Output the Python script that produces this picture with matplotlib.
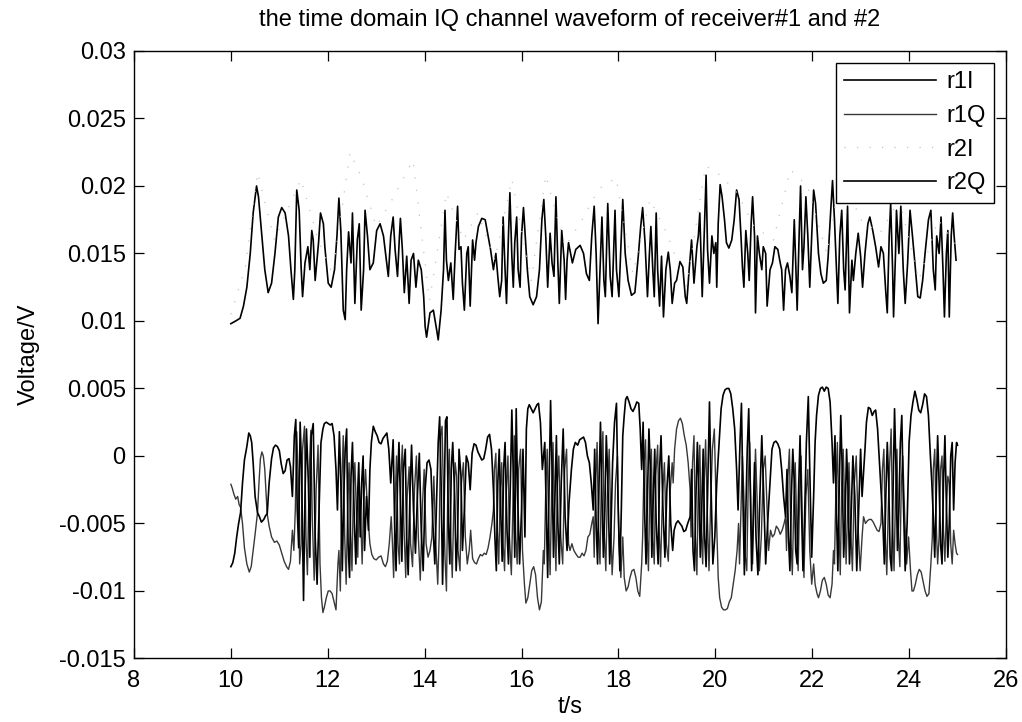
import matplotlib
matplotlib.use("Agg")
import matplotlib.pyplot as plt
from matplotlib.ticker import FuncFormatter

plt.rcParams['font.family'] = ['Liberation Sans', 'DejaVu Sans']
plt.rcParams['axes.unicode_minus'] = False

# Digitised waveforms: (time in s, voltage in mV)
r1i_pts = [
    (10.00, 9.8), (10.10, 10.0), (10.19, 10.2), (10.26, 11.1), (10.33, 12.5), (10.40, 15.0), (10.46, 18.0),
    (10.53, 20.0), (10.57, 19.2), (10.64, 16.3), (10.70, 13.8), (10.77, 12.1), (10.84, 12.8), (10.91, 15.0),
    (10.98, 17.7), (11.05, 18.4), (11.12, 18.0), (11.19, 16.3), (11.24, 13.8), (11.29, 11.6), (11.32, 13.8),
    (11.36, 19.7), (11.41, 18.2), (11.45, 14.0), (11.48, 11.8), (11.53, 14.3), (11.59, 15.5), (11.63, 13.8),
    (11.67, 16.7), (11.70, 16.0), (11.74, 13.0), (11.81, 15.8), (11.85, 18.0), (11.91, 17.2), (11.94, 15.5),
    (12.01, 12.8), (12.07, 12.5), (12.14, 13.8), (12.19, 16.3), (12.23, 19.1), (12.27, 16.7), (12.32, 10.8),
    (12.36, 10.1), (12.39, 13.8), (12.43, 16.6), (12.48, 14.3), (12.51, 18.0), (12.56, 11.3), (12.61, 16.0),
    (12.65, 17.2), (12.69, 10.8), (12.74, 13.8), (12.77, 18.2), (12.82, 16.3), (12.87, 13.8), (12.94, 14.3),
    (13.01, 16.7), (13.08, 17.2), (13.15, 16.3), (13.20, 14.8), (13.25, 13.3), (13.30, 16.3), (13.35, 17.7),
    (13.39, 15.3), (13.44, 13.3), (13.48, 16.3), (13.50, 17.6), (13.54, 15.3), (13.58, 12.1), (13.63, 14.8),
    (13.68, 11.3), (13.72, 14.5), (13.77, 15.0), (13.82, 12.5), (13.87, 14.5), (13.93, 13.8), (13.98, 11.8),
    (14.01, 9.6), (14.04, 8.8), (14.11, 10.6), (14.18, 10.8), (14.25, 9.3), (14.28, 8.6), (14.34, 10.8),
    (14.39, 13.8), (14.42, 18.2), (14.45, 14.5), (14.49, 13.0), (14.54, 14.3), (14.59, 11.6), (14.63, 15.0),
    (14.68, 18.5), (14.71, 15.3), (14.75, 15.5), (14.78, 12.8), (14.82, 10.8), (14.87, 15.0), (14.90, 15.5),
    (14.94, 11.1), (14.99, 16.0), (15.03, 14.5), (15.06, 15.8), (15.11, 17.0), (15.18, 17.6), (15.25, 17.5),
    (15.31, 16.3), (15.36, 15.3), (15.42, 13.8), (15.47, 15.0), (15.51, 13.3), (15.55, 11.8), (15.59, 13.0),
    (15.62, 17.7), (15.66, 13.8), (15.69, 11.3), (15.73, 16.3), (15.76, 19.5), (15.80, 14.8), (15.83, 12.5),
    (15.86, 15.8), (15.90, 17.7), (15.93, 13.8), (15.97, 12.5), (16.00, 16.3), (16.04, 18.4), (16.07, 16.7),
    (16.12, 13.8), (16.17, 11.8), (16.24, 11.2), (16.31, 11.8), (16.37, 13.8), (16.42, 17.5), (16.46, 19.0),
    (16.50, 16.3), (16.54, 12.5), (16.59, 16.5), (16.63, 14.3), (16.67, 13.3), (16.71, 19.2), (16.75, 14.3),
    (16.78, 11.3), (16.83, 16.7), (16.88, 14.5), (16.91, 11.6), (16.94, 14.5), (16.97, 15.8), (17.05, 14.3),
    (17.12, 15.3), (17.21, 15.6), (17.28, 15.0), (17.34, 13.5), (17.40, 13.0), (17.45, 16.3), (17.50, 18.5),
    (17.54, 15.0), (17.58, 9.8), (17.62, 13.8), (17.66, 17.7), (17.70, 13.0), (17.73, 11.8), (17.78, 18.7),
    (17.83, 13.3), (17.87, 11.8), (17.93, 18.2), (17.96, 13.8), (18.01, 11.8), (18.05, 15.5), (18.09, 19.0),
    (18.14, 15.0), (18.20, 13.0), (18.27, 11.9), (18.34, 12.1), (18.41, 14.8), (18.46, 17.0), (18.50, 18.4),
    (18.55, 15.8), (18.60, 11.8), (18.64, 15.0), (18.67, 17.0), (18.71, 13.8), (18.74, 11.8), (18.78, 18.0),
    (18.81, 13.8), (18.85, 11.1), (18.89, 14.8), (18.93, 10.3), (18.98, 13.8), (19.03, 15.1), (19.07, 13.8),
    (19.11, 11.3), (19.16, 12.8), (19.20, 13.0), (19.27, 14.4), (19.33, 14.0), (19.38, 11.8), (19.41, 11.3),
    (19.46, 13.8), (19.51, 16.0), (19.56, 12.8), (19.62, 15.5), (19.65, 16.3), (19.68, 18.0), (19.73, 11.8),
    (19.77, 16.3), (19.81, 20.8), (19.84, 15.3), (19.88, 12.8), (19.93, 16.3), (19.97, 15.0), (20.01, 15.8),
    (20.03, 12.5), (20.06, 17.2), (20.10, 20.1), (20.14, 19.2), (20.19, 17.5), (20.23, 15.8), (20.28, 15.4),
    (20.34, 16.0), (20.39, 17.5), (20.44, 19.7), (20.49, 19.0), (20.53, 16.3), (20.56, 14.0), (20.59, 12.5),
    (20.63, 16.7), (20.67, 15.0), (20.70, 13.0), (20.74, 17.2), (20.77, 19.2), (20.81, 16.3), (20.83, 10.6),
    (20.87, 16.3), (20.91, 15.0), (20.96, 13.8), (20.99, 15.5), (21.04, 15.0), (21.07, 11.1), (21.13, 13.8),
    (21.18, 14.3), (21.23, 15.5), (21.29, 15.3), (21.34, 14.3), (21.37, 13.8), (21.41, 10.8), (21.45, 13.8),
    (21.49, 14.3), (21.54, 13.3), (21.58, 12.1), (21.63, 17.5), (21.66, 14.3), (21.69, 10.8), (21.73, 16.3),
    (21.76, 20.0), (21.80, 13.8), (21.83, 15.5), (21.87, 19.2), (21.91, 16.3), (21.95, 12.5), (21.99, 16.3),
    (22.03, 19.7), (22.07, 18.7), (22.13, 15.0), (22.18, 13.5), (22.23, 12.8), (22.29, 13.0), (22.33, 14.8),
    (22.38, 18.0), (22.42, 20.4), (22.46, 17.5), (22.53, 11.3), (22.57, 16.3), (22.61, 18.2), (22.65, 13.8),
    (22.68, 12.3), (22.73, 18.5), (22.77, 10.6), (22.82, 14.5), (22.85, 13.0), (22.90, 15.0), (22.95, 16.5),
    (23.00, 14.8), (23.04, 12.5), (23.09, 15.0), (23.15, 17.2), (23.19, 17.7), (23.25, 16.7), (23.31, 15.5),
    (23.37, 14.0), (23.42, 15.5), (23.47, 15.0), (23.52, 12.1), (23.55, 10.6), (23.59, 16.3), (23.62, 18.7),
    (23.66, 13.8), (23.68, 10.3), (23.72, 15.0), (23.74, 18.2), (23.79, 15.0), (23.83, 18.5), (23.88, 13.8),
    (23.92, 11.3), (23.97, 14.3), (24.02, 18.2), (24.07, 16.3), (24.12, 14.3), (24.18, 11.8), (24.23, 11.7),
    (24.28, 13.0), (24.33, 15.0), (24.40, 17.5), (24.45, 18.2), (24.50, 13.8), (24.54, 12.3), (24.57, 16.3),
    (24.62, 15.0), (24.66, 17.7), (24.70, 13.8), (24.73, 10.3), (24.77, 15.0), (24.80, 16.7), (24.83, 10.3),
    (24.87, 16.3), (24.90, 18.0), (24.93, 16.3), (24.97, 14.5),
]

r2i_pts = [
    (10.0, 10.5), (10.3, 14.0), (10.55, 21.0), (10.9, 16.0), (11.2, 18.5), (11.45, 20.5), (11.8, 16.0),
    (12.1, 13.5), (12.46, 22.5), (12.7, 20.6), (13.0, 17.0), (13.3, 18.8), (13.76, 21.9), (14.1, 11.5),
    (14.45, 19.5), (14.8, 16.0), (15.1, 18.0), (15.45, 14.5), (15.8, 20.5), (16.2, 13.0), (16.5, 20.8),
    (16.9, 15.5), (17.25, 17.5), (17.6, 19.8), (17.95, 20.6), (18.3, 13.5), (18.65, 19.0), (19.0, 16.5),
    (19.4, 12.5), (19.8, 21.5), (20.1, 20.8), (20.45, 19.5), (20.8, 17.0), (21.2, 16.0), (21.55, 21.2),
    (21.9, 20.0), (22.3, 15.0), (22.6, 21.0), (23.0, 17.5), (23.4, 16.5), (23.8, 19.0), (24.2, 13.0),
    (24.6, 17.5), (25.0, 15.5),
]

r2q_pts = [
    (10.00, -8.2), (10.04, -7.9), (10.08, -7.2), (10.12, -6.0), (10.16, -5.0), (10.20, -4.2), (10.24, -2.0),
    (10.28, -0.3), (10.33, 0.7), (10.37, 1.7), (10.40, 1.5), (10.43, 1.0), (10.46, -0.5), (10.50, -3.0),
    (10.55, -4.2), (10.59, -4.5), (10.63, -4.9), (10.68, -4.7), (10.72, -4.4), (10.75, -4.3),
    (10.79, -2.0), (10.84, -0.2), (10.88, 0.6), (10.92, 0.8), (10.96, 0.7), (11.00, 0.4), (11.04, -0.6),
    (11.08, -1.3), (11.12, -1.1), (11.16, -0.3), (11.20, -0.2), (11.23, -0.8), (11.27, -3.0),
    (11.31, 1.5), (11.34, 2.7), (11.37, -4.0), (11.40, -6.8), (11.43, 2.5), (11.46, -1.0), (11.50, -10.7),
    (11.53, -3.0), (11.56, 2.0), (11.60, -2.0), (11.63, -7.5), (11.66, 1.5), (11.70, 2.4), (11.74, -6.0),
    (11.78, -9.5), (11.82, -4.0), (11.86, 1.0),
    (11.90, 2.0), (11.93, 2.4), (11.97, 2.5), (12.01, 2.4), (12.05, 2.3), (12.09, 2.4), (12.13, 1.5),
    (12.17, -1.0), (12.20, -4.0),
    (12.24, 1.8), (12.27, -2.0), (12.30, -8.5), (12.33, -3.0), (12.36, 0.5), (12.39, 2.0), (12.42, -6.5),
    (12.45, -9.0), (12.48, -1.5), (12.51, 1.0), (12.55, -5.0), (12.58, -8.0), (12.61, -3.5), (12.64, -0.5),
    (12.67, -6.0), (12.70, -2.0), (12.73, 0.0), (12.76, -7.0), (12.80, -3.0), (12.84, -5.5),
    (12.87, -1.0), (12.90, 1.0), (12.94, 2.2), (12.98, 1.8), (13.02, 1.5), (13.06, 1.0), (13.10, 0.9),
    (13.14, 1.3), (13.18, 1.5), (13.22, 1.7), (13.26, 0.5), (13.30, -2.0),
    (13.35, 1.2), (13.38, -5.0), (13.41, -8.5), (13.44, -2.0), (13.47, 1.0), (13.50, -3.5), (13.53, -7.8),
    (13.56, -1.0), (13.60, 0.5), (13.63, -6.0), (13.66, -8.8), (13.70, -2.5), (13.73, 0.8), (13.77, -4.0),
    (13.81, -7.2), (13.85, -3.0), (13.89, 0.2), (13.93, -5.5), (13.97, -8.5), (14.01, -2.5), (14.05, -0.5),
    (14.09, -0.3), (14.13, -1.0), (14.17, -5.0), (14.21, -8.0), (14.25, -3.0), (14.28, 1.0),
    (14.31, 2.9), (14.34, -2.0), (14.37, -9.5), (14.40, -4.0), (14.43, 2.6), (14.46, 2.9), (14.49, -5.0),
    (14.52, -8.0), (14.55, -1.0), (14.58, 1.0), (14.62, -3.0), (14.65, -8.5), (14.68, -6.0), (14.71, 0.5),
    (14.75, -1.5), (14.78, -7.0), (14.82, -4.0), (14.86, 0.0), (14.90, -0.5), (14.94, -2.5),
    (14.98, 0.2), (15.02, 0.9), (15.06, 0.8), (15.10, 0.3), (15.14, 0.0), (15.18, -0.3), (15.22, -0.2),
    (15.26, 0.5), (15.30, 1.4), (15.34, 1.6), (15.38, 0.5), (15.42, -2.5),
    (15.45, -6.0), (15.48, -8.5), (15.51, -2.0), (15.54, 0.5), (15.57, -4.0), (15.60, -7.8), (15.63, -1.0),
    (15.66, 1.0), (15.70, -5.5), (15.73, -8.0), (15.77, -2.0), (15.80, 3.4), (15.83, -1.5), (15.86, -7.5),
    (15.89, 3.5), (15.92, -3.0), (15.96, -8.0), (16.00, -4.0), (16.03, 0.5), (16.07, -6.0),
    (16.10, 2.0), (16.13, 3.5), (16.16, 3.8), (16.20, 3.5), (16.24, 3.2), (16.28, 3.5), (16.32, 3.8),
    (16.35, 3.9), (16.39, 2.5), (16.43, -1.0),
    (16.48, 1.0), (16.51, -4.0), (16.54, -9.0), (16.57, -2.0), (16.60, 4.1), (16.63, -1.0), (16.66, -7.5),
    (16.69, -3.0), (16.72, 1.5), (16.75, -5.0), (16.78, -8.0), (16.82, -2.0), (16.86, 2.0), (16.90, -4.5),
    (16.94, -7.0), (16.98, -3.5),
    (17.03, -1.0), (17.07, 0.5), (17.11, 1.0), (17.16, 0.8), (17.20, 1.2), (17.24, 1.3), (17.28, 1.4),
    (17.32, 1.0), (17.36, 0.0), (17.40, -0.5), (17.44, -2.0), (17.48, -4.0),
    (17.51, 0.5), (17.54, -5.0), (17.57, -8.0), (17.60, -2.0), (17.63, 2.5), (17.66, -3.0), (17.69, -7.5),
    (17.72, -4.0), (17.75, 1.5), (17.78, -1.5), (17.82, -8.0), (17.85, -5.0), (17.88, -0.5), (17.92, 2.5),
    (17.96, 3.9), (17.99, -3.0), (18.03, -8.5), (18.06, -4.0), (18.09, 1.5),
    (18.12, 3.0), (18.15, 4.2), (18.18, 4.4), (18.22, 4.0), (18.26, 3.5), (18.30, 3.3), (18.34, 3.6),
    (18.38, 4.0), (18.42, 3.9), (18.45, 2.0), (18.48, -1.0),
    (18.51, 2.5), (18.54, -4.0), (18.57, -8.0), (18.60, -3.0), (18.63, 2.0), (18.66, -1.0), (18.69, -7.5),
    (18.72, -3.0), (18.75, 0.5), (18.78, -5.0), (18.82, -8.0), (18.85, -1.0), (18.88, 1.5), (18.92, -4.0),
    (18.96, -7.5), (19.00, -2.5), (19.04, 0.0), (19.08, -5.0), (19.12, -7.0),
    (19.15, -5.5), (19.19, -5.0), (19.23, -4.8), (19.27, -5.0), (19.31, -5.2), (19.35, -5.6), (19.39, -5.5),
    (19.43, -5.0), (19.48, -4.5),
    (19.51, -1.0), (19.54, -7.0), (19.57, -8.5), (19.60, -3.0), (19.63, 1.0), (19.66, -2.5), (19.69, -7.5),
    (19.72, -4.0), (19.75, 0.5), (19.78, -6.0), (19.81, -8.2), (19.85, -1.0), (19.88, 4.0), (19.91, -2.0),
    (19.95, -8.0), (19.99, -6.0), (20.03, -2.0),
    (20.08, 1.0), (20.12, 3.5), (20.16, 4.5), (20.20, 4.9), (20.24, 5.0), (20.28, 5.0), (20.32, 4.6),
    (20.36, 3.5), (20.40, 2.0), (20.44, -1.0), (20.47, -4.0),
    (20.51, 1.0), (20.54, 3.9), (20.57, -3.0), (20.60, -8.8), (20.63, -4.0), (20.66, 0.5), (20.69, 3.5),
    (20.72, -2.0), (20.75, -8.5), (20.78, -5.0), (20.81, -0.5), (20.84, -6.0), (20.88, -8.8), (20.92, -3.0),
    (20.96, 1.5), (21.00, -3.0), (21.04, -8.0), (21.08, -5.0),
    (21.13, -2.0), (21.17, 0.5), (21.21, 1.0), (21.25, 1.1), (21.29, 0.9), (21.33, 0.5), (21.37, -1.0),
    (21.41, -3.0), (21.45, -4.5),
    (21.48, -1.0), (21.51, -6.0), (21.54, -8.5), (21.57, -3.0), (21.60, 0.5), (21.63, -2.0), (21.66, -7.0),
    (21.69, -8.0), (21.72, -2.5), (21.75, 1.5), (21.78, -4.0), (21.81, -8.5), (21.84, -5.0), (21.88, 1.0),
    (21.92, 4.4), (21.95, -1.0), (21.99, -7.5), (22.03, -3.0), (22.06, 1.0),
    (22.09, 3.0), (22.13, 4.5), (22.17, 5.0), (22.21, 5.1), (22.25, 4.8), (22.29, 5.1), (22.33, 5.0),
    (22.37, 4.0), (22.41, 1.0), (22.44, -2.0),
    (22.47, 1.5), (22.50, -4.0), (22.53, -8.5), (22.56, -2.0), (22.59, 3.0), (22.62, -1.0), (22.65, -7.5),
    (22.68, -4.5), (22.71, 0.5), (22.74, -2.5), (22.77, -8.0), (22.80, -5.0), (22.84, 0.0), (22.88, -3.0),
    (22.92, -8.5), (22.96, -4.0), (23.00, 0.5), (23.03, -3.0),
    (23.09, 0.5), (23.12, 2.5), (23.16, 3.6), (23.20, 3.5), (23.24, 3.0), (23.28, 3.3), (23.31, 3.4),
    (23.35, 2.0), (23.39, -0.5), (23.43, -3.0),
    (23.46, -5.0), (23.49, -8.0), (23.52, -3.0), (23.55, 1.0), (23.58, -2.0), (23.61, -7.5), (23.64, -8.5),
    (23.67, -2.5), (23.70, 3.5), (23.73, -1.0), (23.76, -7.0), (23.79, -4.0), (23.82, 1.0), (23.85, 3.0),
    (23.88, -3.0), (23.92, -8.5), (23.96, -5.0), (24.00, 1.0), (24.04, 3.0),
    (24.08, 4.0), (24.12, 4.8), (24.16, 4.2), (24.20, 3.4), (24.24, 3.2), (24.28, 3.8), (24.32, 4.6),
    (24.36, 4.4), (24.40, 3.0), (24.44, 0.0), (24.47, -2.0),
    (24.50, -4.5), (24.53, -7.5), (24.56, -3.0), (24.59, 1.5), (24.62, -2.0), (24.65, -6.5), (24.68, -8.0),
    (24.71, -2.0), (24.74, 1.5), (24.77, -3.5), (24.80, -7.5), (24.83, -5.0), (24.86, 0.0), (24.89, 1.0),
    (24.92, -4.0), (24.95, -0.5), (24.98, 1.0), (25.00, 0.8),
]

r1q_pts = [
    (10.00, -2.1), (10.03, -2.4), (10.06, -2.8), (10.10, -3.2), (10.14, -3.0), (10.17, -3.6), (10.20, -3.8),
    (10.24, -5.0), (10.28, -6.8), (10.33, -8.0), (10.38, -8.6), (10.42, -8.2), (10.46, -7.0), (10.50, -5.8),
    (10.55, -4.2), (10.58, -2.0), (10.61, -0.2), (10.64, 0.3), (10.67, 0.0), (10.70, -1.0), (10.75, -4.3),
    (10.79, -5.2), (10.84, -6.0), (10.90, -6.4), (10.95, -6.3), (11.00, -6.6), (11.05, -7.2), (11.10, -7.8),
    (11.15, -8.2), (11.19, -8.4), (11.23, -7.8), (11.27, -5.5),
    (11.30, -7.0), (11.33, -4.0), (11.36, 1.8), (11.39, -1.5), (11.42, -8.0), (11.45, -6.5), (11.48, 0.5),
    (11.52, 2.2), (11.55, -6.0), (11.58, -8.8), (11.62, -1.0), (11.65, 1.9), (11.68, -4.5), (11.72, -9.2),
    (11.76, -2.5), (11.80, 0.8), (11.84, -8.0), (11.87, -10.5),
    (11.90, -11.6), (11.93, -11.2), (11.97, -10.5), (12.01, -10.0), (12.05, -10.0), (12.09, -10.2),
    (12.13, -10.8), (12.17, -11.4), (12.21, -8.0),
    (12.23, -7.0), (12.26, -10.0), (12.29, -2.0), (12.32, 1.5), (12.35, -6.0), (12.38, -9.5), (12.41, -4.0),
    (12.44, -0.5), (12.47, -5.5), (12.50, -8.5), (12.53, -2.5), (12.56, -0.5), (12.59, -4.0), (12.62, -7.5),
    (12.65, -2.0), (12.68, -4.5), (12.71, -8.0), (12.74, -3.5), (12.78, -1.0), (12.82, -4.0),
    (12.87, -6.5), (12.91, -7.3), (12.95, -7.6), (13.00, -7.7), (13.05, -7.5), (13.10, -7.4), (13.15, -8.0),
    (13.19, -8.2), (13.23, -7.8), (13.27, -6.5), (13.31, -4.5),
    (13.33, -6.0), (13.36, -9.0), (13.39, -3.5), (13.42, 0.0), (13.45, -6.5), (13.48, -8.0), (13.51, -1.5),
    (13.54, 0.8), (13.57, -5.0), (13.61, -9.0), (13.64, -3.0), (13.68, -0.8), (13.71, -6.5), (13.75, -8.2),
    (13.79, -2.5), (13.83, 0.0), (13.87, -6.0), (13.91, -9.2), (13.95, -4.0), (13.99, -1.0), (14.03, -6.5),
    (14.07, -7.5), (14.11, -7.0), (14.15, -6.0), (14.19, -1.5), (14.23, -6.5), (14.27, -9.5),
    (14.30, -6.0), (14.33, 1.5), (14.36, 2.2), (14.39, -3.0), (14.42, -7.5), (14.45, -10.0), (14.48, -2.0),
    (14.51, 0.5), (14.54, -6.0), (14.57, -9.0), (14.60, -4.0), (14.63, -0.5), (14.66, -1.5), (14.69, -7.0),
    (14.73, -8.5), (14.76, -2.0), (14.80, -0.5), (14.84, -6.0), (14.88, -8.0), (14.92, -7.0), (14.95, -5.5),
    (14.99, -7.6), (15.03, -7.9), (15.07, -8.0), (15.11, -7.6), (15.15, -7.3), (15.19, -7.4), (15.23, -7.2),
    (15.27, -7.3), (15.31, -6.8), (15.35, -6.0), (15.39, -5.0), (15.42, -4.0),
    (15.44, -1.0), (15.47, 0.2), (15.50, -5.5), (15.53, -8.0), (15.56, -2.5), (15.59, -0.5), (15.62, -6.5),
    (15.65, -8.5), (15.68, -3.0), (15.72, 0.0), (15.75, -6.0), (15.79, -8.8), (15.82, -4.0), (15.85, 1.5),
    (15.88, -6.0), (15.91, -8.0), (15.94, -1.0), (15.98, 0.5), (16.02, -7.0), (16.06, -9.5),
    (16.09, -10.9), (16.13, -10.5), (16.17, -9.5), (16.21, -8.5), (16.25, -8.2), (16.29, -8.8), (16.33, -10.5),
    (16.37, -11.4), (16.41, -10.8), (16.45, -7.0),
    (16.47, -8.0), (16.50, -2.5), (16.53, 0.5), (16.56, -5.0), (16.59, -8.8), (16.62, -3.0), (16.65, 1.0),
    (16.68, -4.5), (16.71, -8.5), (16.74, -2.0), (16.77, 0.0), (16.81, -6.0), (16.85, -8.0), (16.89, -1.0),
    (16.93, 0.5), (16.97, -6.5), (17.00, -7.0),
    (17.04, -6.5), (17.08, -7.0), (17.13, -7.3), (17.17, -7.5), (17.21, -7.5), (17.25, -7.2), (17.29, -7.4),
    (17.33, -7.0), (17.37, -6.0), (17.41, -5.8), (17.45, -5.0), (17.48, -4.5),
    (17.50, -7.5), (17.53, -2.0), (17.56, 1.0), (17.59, -5.5), (17.62, -8.0), (17.65, -1.5), (17.68, 1.8),
    (17.71, -6.0), (17.74, -8.5), (17.77, -3.0), (17.81, 0.5), (17.84, -4.5), (17.87, -8.8), (17.91, -6.0),
    (17.94, -2.0), (17.98, 0.0), (18.01, -6.5), (18.05, -9.0), (18.09, -6.0),
    (18.12, -9.0), (18.16, -10.0), (18.20, -9.7), (18.24, -9.0), (18.28, -8.5), (18.32, -8.4), (18.36, -9.0),
    (18.40, -10.0), (18.44, -10.4), (18.48, -8.0),
    (18.50, -6.0), (18.53, -0.5), (18.56, 1.2), (18.59, -5.5), (18.62, -8.5), (18.65, -2.0), (18.68, 0.5),
    (18.71, -6.0), (18.74, -8.0), (18.77, -1.5), (18.81, 0.8), (18.84, -5.5), (18.87, -8.2), (18.91, -3.0),
    (18.95, -0.5), (18.99, -6.5), (19.03, -7.8), (19.07, -2.5), (19.11, -0.5), (19.13, -2.0),
    (19.16, 0.5), (19.20, 2.0), (19.24, 2.6), (19.28, 2.8), (19.32, 2.4), (19.36, 1.5), (19.40, 0.8),
    (19.44, -0.5), (19.48, -2.5),
    (19.50, -6.0), (19.53, -0.5), (19.56, 1.5), (19.59, -6.0), (19.62, -8.8), (19.65, -2.0), (19.68, 0.8),
    (19.71, -5.5), (19.74, -8.0), (19.77, -2.0), (19.80, 1.2), (19.84, -5.0), (19.87, -8.5), (19.90, -4.0),
    (19.94, 0.5), (19.98, 2.0), (20.02, -4.0), (20.06, -9.0),
    (20.09, -10.5), (20.13, -11.2), (20.17, -11.4), (20.21, -11.4), (20.25, -11.3), (20.29, -10.8),
    (20.33, -10.5), (20.37, -9.5), (20.41, -8.5), (20.45, -7.0), (20.48, -5.0),
    (20.50, -8.0), (20.53, -4.0), (20.56, 0.0), (20.59, -3.0), (20.62, -7.5), (20.65, -8.5), (20.68, -2.0),
    (20.71, 1.0), (20.74, -5.0), (20.77, -8.0), (20.80, -3.0), (20.83, 0.5), (20.87, -4.0), (20.91, -8.5),
    (20.95, -6.0), (20.99, -1.0), (21.03, 0.0), (21.07, -4.0), (21.10, -7.0),
    (21.14, -5.5), (21.18, -6.0), (21.22, -5.8), (21.26, -5.2), (21.30, -5.4), (21.34, -5.8), (21.38, -5.5),
    (21.42, -5.0), (21.45, -4.5),
    (21.47, -7.0), (21.50, -1.5), (21.53, 0.5), (21.56, -6.0), (21.59, -8.8), (21.62, -3.5), (21.65, -0.5),
    (21.68, -5.0), (21.71, -8.5), (21.74, -3.0), (21.77, 0.0), (21.80, -5.5), (21.83, -9.0), (21.87, -3.0),
    (21.91, -1.0), (21.95, -7.0), (21.99, -9.5), (22.03, -8.0), (22.06, -9.5),
    (22.10, -10.2), (22.13, -10.5), (22.17, -10.0), (22.21, -9.2), (22.25, -9.0), (22.29, -9.5),
    (22.33, -10.3), (22.37, -10.5), (22.41, -9.5), (22.44, -7.0),
    (22.46, -8.0), (22.49, -2.5), (22.52, 1.0), (22.55, -5.0), (22.58, -8.8), (22.61, -2.0), (22.64, 0.5),
    (22.67, -3.5), (22.70, -8.0), (22.73, -4.0), (22.76, -0.5), (22.79, -5.0), (22.83, -8.5), (22.87, -2.0),
    (22.91, 0.0), (22.95, -5.5), (22.99, -8.5), (23.03, -6.0), (23.06, -4.5),
    (23.10, -5.0), (23.14, -4.8), (23.18, -4.7), (23.22, -4.7), (23.26, -4.9), (23.30, -5.2), (23.34, -5.5),
    (23.38, -5.6), (23.42, -5.0),
    (23.45, -1.0), (23.48, 0.5), (23.51, -6.0), (23.54, -8.8), (23.57, -4.0), (23.60, -0.5), (23.63, 2.0),
    (23.66, -5.0), (23.69, -8.5), (23.72, -3.0), (23.75, 0.5), (23.78, -6.0), (23.81, -8.2), (23.84, -2.0),
    (23.87, 0.0), (23.91, -4.5), (23.95, -8.0), (23.99, -6.0), (24.03, -8.5), (24.06, -10.0),
    (24.09, -10.0), (24.13, -9.5), (24.17, -8.8), (24.21, -8.4), (24.25, -8.6), (24.29, -9.3), (24.33, -10.0),
    (24.37, -10.4), (24.41, -10.2), (24.45, -8.0), (24.48, -6.0),
    (24.50, -1.0), (24.53, 0.5), (24.56, -5.0), (24.59, -8.0), (24.62, -6.0), (24.65, -1.0), (24.68, 0.0),
    (24.71, -5.5), (24.74, -7.8), (24.77, -4.0), (24.80, -1.5), (24.83, -2.0), (24.86, -6.5), (24.89, -8.0),
    (24.92, -5.5), (24.95, -6.5), (24.98, -7.2), (25.00, -7.3),
]

series_names = ['r1I', 'r1Q', 'r2I', 'r2Q']
x_ticks = [8, 10, 12, 14, 16, 18, 20, 22, 24, 26]
y_ticks = [-0.015, -0.01, -0.005, 0, 0.005, 0.01, 0.015, 0.02, 0.025, 0.03]


def unpack(points):
    t = [p[0] for p in points]
    v = [p[1] / 1000.0 for p in points]   # mV -> V
    return t, v


FS = 17

fig = plt.figure(figsize=(10.22, 7.22), dpi=100)
ax = fig.add_axes([0.1311, 0.0880, 0.8532, 0.8414])

styles = {
    'r1I': dict(color='black', lw=1.2, ls='-'),
    'r1Q': dict(color='#383838', lw=1.0, ls='-'),
    'r2I': dict(color='#c4c4c4', lw=0.9, ls=(0, (1, 9))),
    'r2Q': dict(color='black', lw=1.2, ls='-'),
}
data = {'r1I': r1i_pts, 'r1Q': r1q_pts, 'r2I': r2i_pts, 'r2Q': r2q_pts}

for name in series_names:
    t, v = unpack(data[name])
    ax.plot(t, v, label=name, **styles[name])

ax.set_xlim(8, 26)
ax.set_ylim(-0.015, 0.03)
ax.set_xticks(x_ticks)
ax.set_yticks(y_ticks)
ax.yaxis.set_major_formatter(FuncFormatter(lambda v, _: f'{v:g}'))
ax.xaxis.set_major_formatter(FuncFormatter(lambda v, _: f'{v:g}'))

ax.tick_params(direction='in', length=7, width=0.9, labelsize=FS,
               top=True, right=True)
ax.tick_params(axis='y', pad=6)
ax.tick_params(axis='x', pad=8)
for sp in ax.spines.values():
    sp.set_linewidth(1.0)

ax.set_title('the time domain IQ channel waveform of receiver#1 and #2',
             fontsize=FS, pad=18)
ax.set_xlabel('t/s', fontsize=FS, labelpad=3)
ax.set_ylabel('Voltage/V', fontsize=FS, labelpad=14)

leg = ax.legend(loc='upper right', fontsize=FS, frameon=True, fancybox=False,
                edgecolor='black', framealpha=1, handlelength=3.9,
                handletextpad=0.45, labelspacing=0.5, borderaxespad=0.5,
                borderpad=0.35)
leg.get_frame().set_linewidth(1.0)

fig.savefig('out.png', dpi=100, facecolor='white')
